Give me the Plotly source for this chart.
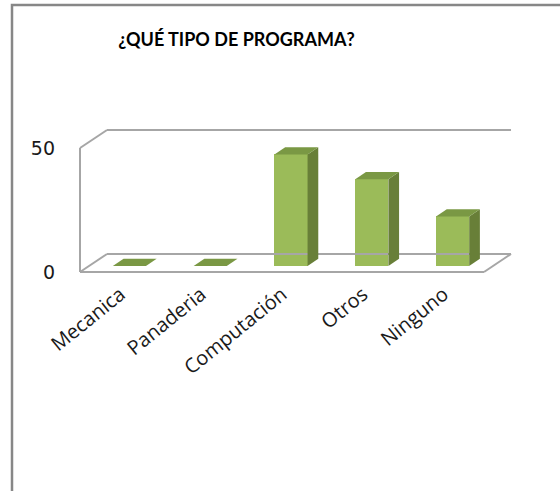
import plotly.graph_objects as go

# --- data -------------------------------------------------------------
categories = ["Mecanica", "Panaderia", "Computación", "Otros", "Ninguno"]
values = [0, 0, 45, 35, 20]
y_ticks = [0, 50]

# --- canvas / pseudo-3D geometry ---------------------------------------
W, H = 560, 491
ML, MR, MT, MB = 60, 30, 100, 213          # plot-area margins (px)
X_RANGE = [-0.7475, 5.069]
Y_RANGE = [-2.42, 69.35]

DEPTH_X, DEPTH_Y = 0.334, 7.26              # floor/wall depth vector (data units)
BAR_W = 0.41
BAR_Z0, BAR_Z1 = 1 / 3, 0.73                # bar depth span as a fraction of floor depth

FRONT = "#9BBB59"
SIDE = "#687F38"
TOP = "#7A9844"
FRAME = "#A6A6A6"

n = len(categories)
y_top = max(y_ticks)

fig = go.Figure()

# walls and floor of the 3D box
x_l, x_r = -0.5, n - 0.5
frame_segments = [
    [(x_l, 0), (x_l, y_top)],                                         # front-left edge
    [(x_l, y_top), (x_l + DEPTH_X, y_top + DEPTH_Y)],                 # side wall top
    [(x_l + DEPTH_X, y_top + DEPTH_Y), (x_r + DEPTH_X, y_top + DEPTH_Y)],  # back wall top
    [(x_l, 0), (x_r, 0)],                                             # floor front
    [(x_l, 0), (x_l + DEPTH_X, DEPTH_Y)],                             # floor left
    [(x_l + DEPTH_X, DEPTH_Y), (x_r + DEPTH_X, DEPTH_Y)],             # floor back
    [(x_r, 0), (x_r + DEPTH_X, DEPTH_Y)],                             # floor right
]
for seg in frame_segments:
    fig.add_trace(go.Scatter(
        x=[p[0] for p in seg], y=[p[1] for p in seg], mode="lines",
        line=dict(color=FRAME, width=2), hoverinfo="skip", showlegend=False,
    ))

# columns: front face as a bar, side and top faces as filled polygons
ox0, oy0 = DEPTH_X * BAR_Z0, DEPTH_Y * BAR_Z0
ddx, ddy = DEPTH_X * (BAR_Z1 - BAR_Z0), DEPTH_Y * (BAR_Z1 - BAR_Z0)
xs = [i + ox0 for i in range(n)]

fig.add_trace(go.Bar(
    x=xs, y=values, base=[oy0] * n, width=BAR_W,
    marker=dict(color=FRONT, line=dict(width=0)),
    showlegend=False, hovertext=categories,
))

for xc, v in zip(xs, values):
    xa, xb = xc - BAR_W / 2, xc + BAR_W / 2
    yb, yt = oy0, oy0 + v
    if v > 0:
        fig.add_trace(go.Scatter(
            x=[xb, xb + ddx, xb + ddx, xb, xb],
            y=[yb, yb + ddy, yt + ddy, yt, yb],
            fill="toself", fillcolor=SIDE, mode="lines", line=dict(width=0),
            hoverinfo="skip", showlegend=False,
        ))
    fig.add_trace(go.Scatter(
        x=[xa, xb, xb + ddx, xa + ddx, xa],
        y=[yt, yt, yt + ddy, yt + ddy, yt],
        fill="toself", fillcolor=TOP, mode="lines", line=dict(width=0),
        hoverinfo="skip", showlegend=False,
    ))

# chart border
pw, ph = W - ML - MR, H - MT - MB
def px_x(p): return (p - ML) / pw
def px_y(p): return 1 - (p - MT) / ph
fig.add_shape(type="rect", xref="paper", yref="paper",
              x0=px_x(12), x1=px_x(W + 5), y0=px_y(H + 5), y1=px_y(5),
              line=dict(color="#878787", width=2.5), layer="below")

fig.update_layout(
    width=W, height=H,
    margin=dict(l=ML, r=MR, t=MT, b=MB),
    paper_bgcolor="white", plot_bgcolor="white",
    font=dict(family="Open Sans", color="#1a1a1a"),
    title=dict(text="<b>¿QUÉ TIPO DE PROGRAMA?</b>", xref="container", yref="container",
               x=236.5 / W, y=1 - 40 / H, xanchor="center", yanchor="middle",
               font=dict(size=18, family="Lato", color="#000000")),
    xaxis=dict(range=X_RANGE, tickmode="array", tickvals=list(range(n)),
               ticktext=categories, tickangle=-39, showgrid=False, zeroline=False,
               showline=False, ticks="", tickfont=dict(size=20), fixedrange=True),
    yaxis=dict(range=Y_RANGE, tickmode="array", tickvals=y_ticks,
               showgrid=False, zeroline=False, showline=False, ticks="",
               ticklabelstandoff=4,
               tickfont=dict(size=19, family="DejaVu Sans"), fixedrange=True),
    bargap=0,
)

fig.write_html("out.html")
